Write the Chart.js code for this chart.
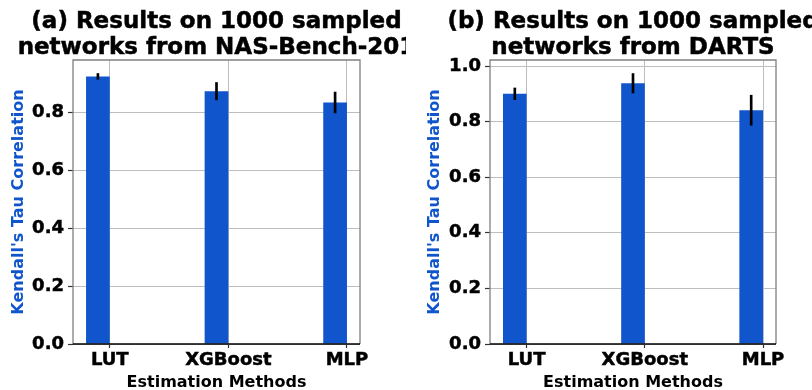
<!DOCTYPE html>
<html>
<head>
<meta charset="utf-8">
<script src="https://cdn.jsdelivr.net/npm/chart.js@4.4.0/dist/chart.umd.min.js"></script>
<style>
  html, body { margin: 0; padding: 0; background: #fff; }
  #wrap { display: flex; width: 812px; height: 390px; overflow: hidden; }
  canvas { display: block; }
</style>
</head>
<body>
<div id="wrap">
  <canvas id="left" width="406" height="390"></canvas>
  <canvas id="right" width="406" height="390"></canvas>
</div>
<script>
const METHODS = ["LUT", "XGBoost", "MLP"];
const Y_TICKS = [0, 0.2, 0.4, 0.6, 0.8, 1.0];

const NB201_TITLE = ["(a) Results on 1000 sampled", "networks from NAS-Bench-201"];
const NB201_MEAN = [0.924, 0.873, 0.834];
const NB201_ERR = [0.010, 0.030, 0.036];

const DARTS_TITLE = ["(b) Results on 1000 sampled", "networks from DARTS"];
const DARTS_MEAN = [0.900, 0.938, 0.841];
const DARTS_ERR = [0.021, 0.035, 0.054];

const BAR_W = 0.2;          // bar width in category units, bar sits left of its tick
const BLUE = "#1155cc";
const GRID = "#bdbdbd";

Chart.defaults.font.family = "'DejaVu Sans', sans-serif";
Chart.defaults.font.weight = "bold";
Chart.defaults.color = "#000";

// spines + two-line title centred on the plot area
const frame = {
  id: "frame",
  afterDraw(chart, args, opts) {
    const { ctx, chartArea: a } = chart;
    ctx.save();
    ctx.lineWidth = 1.3;
    ctx.strokeStyle = "#808080";
    ctx.beginPath();
    ctx.moveTo(a.left, a.bottom);
    ctx.lineTo(a.left, a.top);
    ctx.lineTo(a.right, a.top);
    ctx.lineTo(a.right, a.bottom);
    ctx.stroke();
    ctx.strokeStyle = "#000";
    ctx.beginPath();
    ctx.moveTo(a.left, a.bottom);
    ctx.lineTo(a.right, a.bottom);
    ctx.stroke();

    ctx.font = "bold 23px 'DejaVu Sans'";
    ctx.fillStyle = "#000";
    ctx.strokeStyle = "#000";
    ctx.lineWidth = 0.5;
    ctx.textAlign = "center";
    ctx.textBaseline = "alphabetic";
    const cx = (a.left + a.right) / 2;
    opts.lines.forEach((t, i) => {
      ctx.fillText(t, cx, 28 + i * 25.5);
      ctx.strokeText(t, cx, 28 + i * 25.5);
    });
    ctx.restore();
  },
};

function makeChart(id, title, means, errs, axisW, padRight, yTitlePad) {
  const n = means.length;
  const margin = (n - 1 + BAR_W) * 0.05;
  const yMax = Math.max(...means.map((m, i) => m + errs[i])) * 1.05;

  new Chart(document.getElementById(id), {
    type: "bar",
    data: {
      datasets: [
        {
          // error bars as thin floating bars, drawn on top
          data: means.map((m, i) => ({ x: i - BAR_W / 2, y: [m - errs[i], m + errs[i]] })),
          backgroundColor: "#000",
          barThickness: 2,
          grouped: false,
          borderSkipped: false,
        },
        {
          data: means.map((m, i) => ({ x: i - BAR_W / 2, y: m })),
          backgroundColor: BLUE,
          grouped: false,
          categoryPercentage: BAR_W,
          barPercentage: 1,
        },
      ],
    },
    options: {
      responsive: false,
      animation: false,
      devicePixelRatio: 1,
      layout: { padding: { left: 0, top: 60, right: padRight, bottom: 0 } },
      plugins: {
        legend: { display: false },
        tooltip: { enabled: false },
        frame: { lines: title },
      },
      scales: {
        x: {
          type: "linear",
          offset: false,
          min: -BAR_W - margin,
          max: n - 1 + margin,
          afterBuildTicks: (s) => { s.ticks = METHODS.map((m, i) => ({ value: i })); },
          afterFit: (s) => { s.height = 46; },
          ticks: {
            callback: (v) => METHODS[v],
            font: { size: 18, weight: "bold" },
            textStrokeColor: "#000",
            textStrokeWidth: 0.5,
            padding: 2,
            maxRotation: 0,
            autoSkip: false,
          },
          grid: { offset: false, color: GRID, lineWidth: 1, tickLength: 4, tickColor: "#333", tickWidth: 1.2 },
          border: { display: false },
          title: {
            display: true,
            text: "Estimation Methods",
            font: { size: 16, weight: "bold" },
            padding: { top: 0, bottom: -2 },
          },
        },
        y: {
          min: 0,
          max: yMax,
          afterBuildTicks: (s) => { s.ticks = Y_TICKS.filter((v) => v <= yMax).map((v) => ({ value: v })); },
          afterFit: (s) => { s.width = axisW; },
          ticks: {
            callback: (v) => v.toFixed(1),
            font: { size: 18, weight: "bold" },
            textStrokeColor: "#000",
            textStrokeWidth: 0.5,
            padding: 4,
          },
          grid: { color: GRID, lineWidth: 1, tickLength: 5, tickColor: "#333", tickWidth: 1.2 },
          border: { display: false },
          title: {
            display: true,
            text: "Kendall's Tau Correlation",
            color: BLUE,
            font: { size: 16, weight: "bold" },
            padding: { top: yTitlePad, bottom: 0 },
          },
        },
      },
    },
    plugins: [frame],
  });
}

makeChart("left", NB201_TITLE, NB201_MEAN, NB201_ERR, 73, 46, 8.8);
makeChart("right", DARTS_TITLE, DARTS_MEAN, DARTS_ERR, 84, 36, 19.7);
</script>
</body>
</html>
